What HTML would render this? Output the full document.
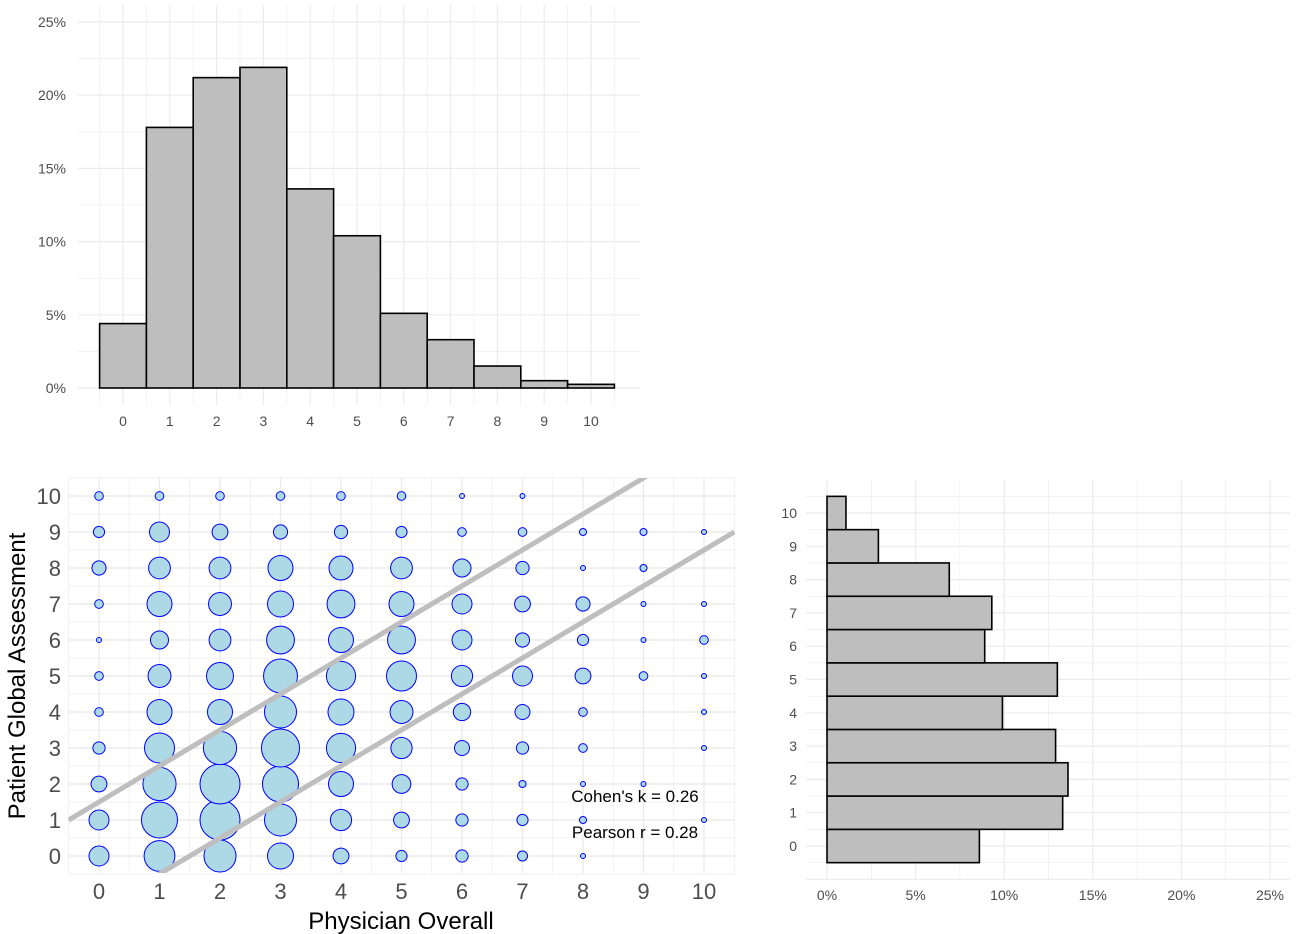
<!DOCTYPE html>
<html><head><meta charset="utf-8"><style>
html,body{margin:0;padding:0;background:#fff;}
svg{display:block;font-family:"Liberation Sans",Arial,sans-serif;}
</style></head><body>
<svg id="svg" width="1300" height="934" viewBox="0 0 1300 934">
<g id="top"></g>
<g id="sc"></g>
<g id="rh"></g>
</svg>
<script>
const physCats=[0,1,2,3,4,5,6,7,8,9,10];
const physPct=[4.4,17.8,21.2,21.9,13.6,10.4,5.1,3.3,1.5,0.5,0.25];
const patCats=[0,1,2,3,4,5,6,7,8,9,10];
const patPct=[8.6,13.3,13.6,12.9,9.9,13.0,8.9,9.3,6.9,2.9,1.07];
const pctTicks=[0,5,10,15,20,25];
const pctLabels=["0%","5%","10%","15%","20%","25%"];
// counts[x][y]
const counts=[
[16,16,10,6,3,3,1,3,8,5,3],
[38,52,44,36,25,21,13,25,19,16,3],
[41,64,64,44,25,29,19,21,19,10,3],
[27,41,52,58,41,46,31,27,25,8,3],
[10,18,25,34,27,34,25,31,23,7,3],
[5,10,14,18,21,36,31,25,19,5,3],
[6,6,6,9,12,18,16,16,13,3,1],
[4,5,2,6,9,16,8,10,7,3,1],
[1,2,1,3,3,10,5,8,1,2,0],
[0,0,1,0,0,3,1,1,2,2,0],
[0,1,0,1,1,1,3,1,0,1,0]];
const bandOffsets=[1.5,-1.5];
const statLabels=["Cohen's k = 0.26","Pearson r = 0.28"];

const NS="http://www.w3.org/2000/svg";
function mk(p,t,a,txt){const e=document.createElementNS(NS,t);for(const k in a)e.setAttribute(k,a[k]);if(txt!==undefined)e.textContent=txt;p.appendChild(e);return e;}
const G="#ebebeb";

// ---------- top histogram ----------
(function(){
 const g=document.getElementById('top');
 const L=78,R=640,T=5,B=405;
 const xs=v=>123+v*46.8, ys=p=>388-p*14.64;
 for(let p=0;p<=27.5;p+=2.5){const y=ys(p);if(y<T)continue;const l=mk(g,'line',{x1:L,x2:R,y1:y,y2:y,stroke:G,'stroke-width':p%5===0?1.2:0.6});}
 for(let v=-0.5;v<=10.5;v+=0.5){const x=xs(v);const l=mk(g,'line',{x1:x,x2:x,y1:T,y2:B,stroke:G,'stroke-width':Number.isInteger(v)?1.2:0.6});}
 physCats.forEach((c,i)=>{const r=mk(g,'rect',{x:xs(c)-23.4,y:ys(physPct[i]),width:46.8,height:ys(0)-ys(physPct[i]),fill:'#bebebe',stroke:'#000','stroke-width':1.6});
  
  const t=mk(g,'text',{x:xs(c),y:426,'font-size':14,fill:'#4d4d4d','text-anchor':'middle'},String(c));});
 pctTicks.forEach((p,i)=>{const t=mk(g,'text',{x:66,y:ys(p)+5,'font-size':14,fill:'#4d4d4d','text-anchor':'end'},pctLabels[i]);});
})();

// ---------- scatter ----------
(function(){
 const g=document.getElementById('sc');
 const L=68,R=735,T=478,B=873;
 const xs=v=>99+v*60.5, ys=v=>856-v*36;
 for(let v=-0.5;v<=10.5;v+=0.5){const y=ys(v);const l=mk(g,'line',{x1:L,x2:R,y1:y,y2:y,stroke:G,'stroke-width':Number.isInteger(v)?1.4:0.7});
  const x=xs(v);const l2=mk(g,'line',{x1:x,x2:x,y1:T,y2:B,stroke:G,'stroke-width':Number.isInteger(v)?1.4:0.7});}
 physCats.forEach(xc=>{patCats.forEach(yc=>{const n=counts[xc][yc];if(!n)return;
  const c=mk(g,'circle',{cx:xs(xc),cy:ys(yc),r:2.5*Math.sqrt(n),fill:'#add8e6',stroke:'#0000ff','stroke-width':1});
  });});
 const cp=mk(g,'clipPath',{id:'scclip'});mk(cp,'rect',{x:L,y:T,width:R-L,height:B-T});
 bandOffsets.forEach(o=>{const x0=-0.5,x1=10.5;const l=mk(g,'line',{x1:xs(x0),y1:ys(x0+o),x2:xs(x1),y2:ys(x1+o),stroke:'#bebebe','stroke-width':5,'clip-path':'url(#scclip)'});
  });
 statLabels.forEach((s,i)=>{const t=mk(g,'text',{x:635,y:802+i*36,'font-size':17,fill:'#000','text-anchor':'middle'},s);});
 physCats.forEach(c=>{const t=mk(g,'text',{x:xs(c),y:899,'font-size':22,fill:'#4d4d4d','text-anchor':'middle'},String(c));});
 patCats.forEach(c=>{const t=mk(g,'text',{x:61,y:ys(c)+8,'font-size':22,fill:'#4d4d4d','text-anchor':'end'},String(c));});
 const xt=mk(g,'text',{x:401,y:929,'font-size':24,fill:'#000','text-anchor':'middle'},'Physician Overall');
 const yt=mk(g,'text',{x:0,y:0,'font-size':24,fill:'#000','text-anchor':'middle',transform:'translate(25,676) rotate(-90)'},'Patient Global Assessment');
})();

// ---------- right histogram ----------
(function(){
 const g=document.getElementById('rh');
 const L=806,R=1290,T=480,B=880;
 const xs=p=>827+p*17.72, ys=v=>846-v*33.3;
 for(let p=0;p<=27.5;p+=2.5){const x=xs(p);if(x>R)continue;const l=mk(g,'line',{x1:x,x2:x,y1:T,y2:B,stroke:G,'stroke-width':p%5===0?1.2:0.6});}
 for(let v=-1;v<=11;v+=0.5){const y=ys(v);if(y<T||y>B)continue;const l=mk(g,'line',{x1:L,x2:R,y1:y,y2:y,stroke:G,'stroke-width':Number.isInteger(v)?1.2:0.6});}
 patCats.forEach((c,i)=>{const r=mk(g,'rect',{x:xs(0),y:ys(c)-16.65,width:xs(patPct[i])-xs(0),height:33.3,fill:'#bebebe',stroke:'#000','stroke-width':1.6});
  
  const t=mk(g,'text',{x:797,y:ys(c)+5,'font-size':14,fill:'#4d4d4d','text-anchor':'end'},String(c));});
 pctTicks.forEach((p,i)=>{const t=mk(g,'text',{x:xs(p),y:900,'font-size':14,fill:'#4d4d4d','text-anchor':'middle'},pctLabels[i]);});
})();
</script>
</body></html>
